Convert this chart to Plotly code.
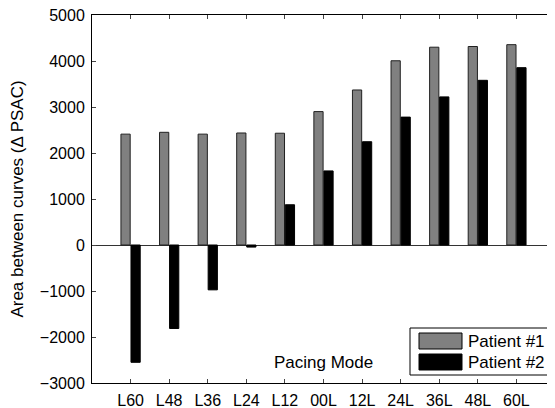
import plotly.graph_objects as go

modes = ["L60", "L48", "L36", "L24", "L12", "00L", "12L", "24L", "36L", "48L", "60L"]
patient1 = [2410, 2450, 2410, 2435, 2430, 2900, 3370, 4005, 4300, 4315, 4355]
patient2 = [-2550, -1815, -975, -45, 875, 1610, 2245, 2780, 3220, 3580, 3855]
yticks = [-3000, -2000, -1000, 0, 1000, 2000, 3000, 4000, 5000]
series_names = ["Patient #1", "Patient #2"]
series_colors = ["#808080", "black"]

idx = list(range(len(modes)))
FAM = "Liberation Sans"
font = dict(family=FAM, size=17, color="black")

# page has an 8px body margin; compensate so the plot area lands at
# x 92..555, y 15..383 in the window
OFF = 8
W, H = 555, 408
L, T = 92 - OFF, 15 - OFF
R = W - (555 - OFF)
B = H - (383 - OFF)
PW, PH = W - L - R, H - T - B

def px(x):
    return (x - OFF - L) / PW

def py(y):
    return (H - B - (y - OFF)) / PH

fig = go.Figure()
fig.add_trace(go.Bar(x=idx, y=patient1, name=series_names[0], showlegend=False,
                     marker=dict(color=series_colors[0], line=dict(color="#202020", width=1))))
fig.add_trace(go.Bar(x=idx, y=patient2, name=series_names[1], showlegend=False,
                     marker=dict(color=series_colors[1], line=dict(color="black", width=1))))

fig.update_layout(
    template="none",
    width=W, height=H,
    margin=dict(l=L, r=R, t=T, b=B, autoexpand=False),
    paper_bgcolor="white", plot_bgcolor="white",
    font=font,
    barmode="group", bargap=0.48, bargroupgap=0.08,
)
fig.update_xaxes(range=[-1, 11], tickmode="array", tickvals=idx, ticktext=modes,
                 automargin=False, ticklabeloverflow="allow",
                 showgrid=False, zeroline=False, showline=True, linecolor="black",
                 mirror="ticks", ticks="inside", ticklen=4, tickcolor="#444",
                 linewidth=1, tickfont=dict(family=FAM, size=16),
                 ticklabelstandoff=3)
fig.update_yaxes(range=[-3000, 5000], tickmode="array", tickvals=yticks,
                 automargin=False, ticklabeloverflow="allow",
                 showgrid=False, zeroline=True, zerolinecolor="#333", zerolinewidth=1,
                 showline=True, linecolor="black", mirror="ticks", ticks="inside",
                 ticklen=4, tickcolor="#444", linewidth=1,
                 tickfont=dict(family=FAM, size=16), ticklabelstandoff=3,
                 title=dict(text="Area between curves (Δ PSAC)", standoff=12,
                            font=dict(family=FAM, size=17)))
fig.add_annotation(x=5, y=-2560, xref="x", yref="y", text="Pacing Mode",
                   showarrow=False, font=font)

# legend box
fig.add_shape(type="rect", xref="paper", yref="paper",
              x0=px(410), x1=px(550), y0=py(375), y1=py(328),
              line=dict(color="black", width=1), fillcolor="white")
for i, (nm, col) in enumerate(zip(series_names, series_colors)):
    top = 333 + i * 21
    fig.add_shape(type="rect", xref="paper", yref="paper",
                  x0=px(419), x1=px(462), y0=py(top + 16), y1=py(top),
                  line=dict(color="black", width=1), fillcolor=col)
    fig.add_annotation(x=px(466), y=py(top + 8.5), xref="paper", yref="paper",
                       text=nm, showarrow=False, xanchor="left", yanchor="middle",
                       font=dict(family=FAM, size=17, color="black"))

fig.write_html("out.html")
